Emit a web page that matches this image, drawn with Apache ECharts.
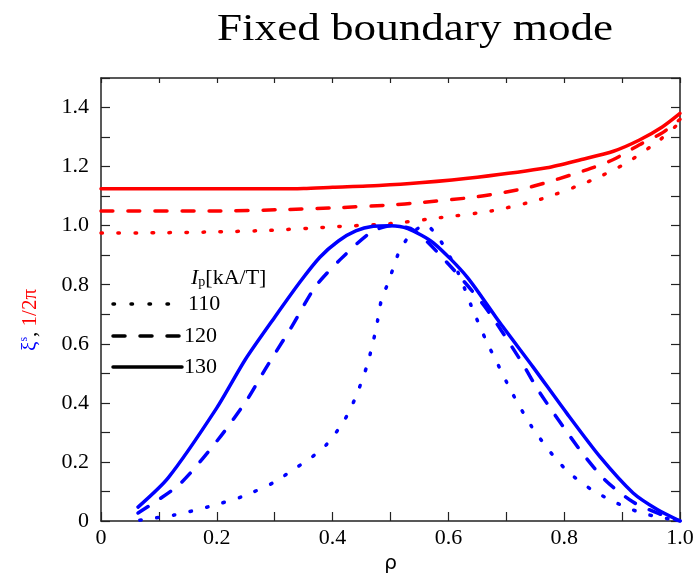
<!DOCTYPE html>
<html>
<head>
<meta charset="utf-8">
<script src="https://cdn.jsdelivr.net/npm/echarts@6/dist/echarts.min.js"></script>
<style>
html,body{margin:0;padding:0;background:#fff;}
#chart{width:697px;height:574px;}
</style>
</head>
<body>
<div id="chart"></div>
<script>
// ---- data ----
var xTicks = [0, 0.2, 0.4, 0.6, 0.8, 1.0];
var yTicks = [0, 0.2, 0.4, 0.6, 0.8, 1.0, 1.2, 1.4];
var legendLabels = ['110', '120', '130'];

// red: 1/2π  (Ip = 130, 120, 110)
var redSolidRho = [0, 0.1, 0.2, 0.3, 0.35, 0.4, 0.48, 0.55, 0.65, 0.77, 0.83, 0.885, 0.93, 0.97, 1.0];
var redSolidVal = [1.125, 1.125, 1.125, 1.125, 1.126, 1.13, 1.136, 1.145, 1.164, 1.196, 1.224, 1.252, 1.29, 1.335, 1.38];
var redDashRho = [0, 0.2, 0.31, 0.4, 0.5, 0.55, 0.65, 0.74, 0.84, 0.885, 0.93, 0.97, 1.0];
var redDashVal = [1.05, 1.05, 1.054, 1.06, 1.07, 1.078, 1.098, 1.13, 1.19, 1.224, 1.274, 1.315, 1.36];
var redDotRho = [0, 0.1, 0.2, 0.29, 0.41, 0.5, 0.585, 0.675, 0.76, 0.85, 0.908, 0.965, 1.0];
var redDotVal = [0.975, 0.976, 0.979, 0.984, 0.997, 1.007, 1.027, 1.05, 1.09, 1.156, 1.213, 1.29, 1.35];

// blue: ξ^s  (Ip = 130, 120, 110)
var blueSolidRho = [0.064, 0.116, 0.2, 0.249, 0.3, 0.344, 0.378, 0.41, 0.44, 0.47, 0.5, 0.53, 0.574, 0.632, 0.689, 0.746, 0.804, 0.862, 0.919, 0.96, 1.0];
var blueSolidVal = [0.047, 0.146, 0.383, 0.546, 0.69, 0.81, 0.893, 0.948, 0.982, 0.998, 1.0, 0.99, 0.942, 0.827, 0.671, 0.522, 0.366, 0.217, 0.095, 0.04, 0];
var blueDashRho = [0.064, 0.136, 0.202, 0.252, 0.283, 0.33, 0.37, 0.413, 0.465, 0.5, 0.54, 0.6, 0.663, 0.724, 0.758, 0.827, 0.87, 0.919, 0.97, 1.0];
var blueDashVal = [0.027, 0.125, 0.275, 0.41, 0.512, 0.66, 0.793, 0.885, 0.976, 1.0, 0.985, 0.87, 0.726, 0.546, 0.434, 0.241, 0.14, 0.064, 0.02, 0];
var blueDotRho = [0.067, 0.126, 0.185, 0.243, 0.3, 0.331, 0.36, 0.39, 0.42, 0.44, 0.46, 0.475, 0.485, 0.494, 0.505, 0.515, 0.534, 0.56, 0.585, 0.617, 0.64, 0.666, 0.68, 0.71, 0.744, 0.787, 0.815, 0.848, 0.876, 0.905, 0.934, 0.962, 1.0];
var blueDotVal = [0.003, 0.02, 0.048, 0.082, 0.132, 0.173, 0.21, 0.26, 0.34, 0.42, 0.53, 0.65, 0.756, 0.797, 0.858, 0.912, 0.969, 1.003, 0.953, 0.84, 0.726, 0.607, 0.552, 0.434, 0.319, 0.207, 0.153, 0.105, 0.075, 0.048, 0.027, 0.014, 0];

function pairs(xs, ys) { return xs.map(function (x, i) { return [x, ys[i]]; }); }

var FONT = '"Liberation Serif", "Times New Roman", serif';
var RED = '#ff0000', BLUE = '#0000ff';
var LW = 3.5;
var DOT = [1.5, 15.5];
var DASH = [12, 15];

function mkSeries(name, xs, ys, color, type) {
  return {
    name: name, type: 'line', data: pairs(xs, ys), showSymbol: false, symbol: 'none',
    smooth: 0.25, silent: true, animation: false,
    lineStyle: { color: color, width: LW, type: type, cap: 'round', join: 'round' }
  };
}

function fmtTick(list) {
  return function (v) {
    for (var i = 0; i < list.length; i++) {
      if (Math.abs(list[i] - v) < 1e-6) return v === 0 ? '0' : v.toFixed(1);
    }
    return '';
  };
}

var chart = echarts.init(document.getElementById('chart'), null, { renderer: 'canvas' });
function line() { return { show: true, onZero: false, lineStyle: { color: '#222', width: 1.5 } }; }
function tick(len) { return { show: true, inside: true, length: len, lineStyle: { color: '#222', width: 1.2 } }; }
var option = {
  animation: false,
  grid: { left: 101, right: 17, top: 78, bottom: 53, containLabel: false, outerBoundsMode: 'none' },
  xAxis: [{
    type: 'value', min: 0, max: 1, interval: 0.1, position: 'bottom',
    axisLine: line(), axisTick: tick(9), splitLine: { show: false },
    axisLabel: { fontFamily: FONT, fontSize: 22, color: '#000', margin: 6, formatter: fmtTick(xTicks), showMinLabel: true, showMaxLabel: true },
    name: 'ρ', nameLocation: 'middle', nameGap: 30,
    nameTextStyle: { fontFamily: '"DejaVu Sans", sans-serif', fontSize: 20, color: '#000' }
  }, {
    type: 'value', min: 0, max: 1, interval: 0.1, position: 'top',
    axisLine: line(), axisTick: tick(5), splitLine: { show: false }, axisLabel: { show: false }
  }],
  yAxis: [{
    type: 'value', min: 0, max: 1.5, interval: 0.1, position: 'left',
    axisLine: line(), axisTick: tick(9), splitLine: { show: false },
    axisLabel: { fontFamily: FONT, fontSize: 22, color: '#000', margin: 12, formatter: fmtTick(yTicks) }
  }, {
    type: 'value', min: 0, max: 1.5, interval: 0.1, position: 'right',
    axisLine: line(), axisTick: tick(9), splitLine: { show: false }, axisLabel: { show: false }
  }],
  series: [
    mkSeries('r130', redSolidRho, redSolidVal, RED, 'solid'),
    mkSeries('r120', redDashRho, redDashVal, RED, DASH),
    mkSeries('r110', redDotRho, redDotVal, RED, DOT),
    mkSeries('b130', blueSolidRho, blueSolidVal, BLUE, 'solid'),
    mkSeries('b120', blueDashRho, blueDashVal, BLUE, DASH),
    mkSeries('b110', blueDotRho, blueDotVal, BLUE, DOT)
  ],
  graphic: [
    { type: 'text', x: 415, y: 30, scaleX: 1.22, style: { text: 'Fixed boundary mode', font: '37px ' + FONT, fill: '#000', align: 'center', verticalAlign: 'middle' } },
    { type: 'text', x: 30, y: 320, rotation: Math.PI / 2, style: {
        text: '{b|ξ}{bs|s}{k|, }{r|1/2π}', align: 'center', verticalAlign: 'middle',
        rich: {
          b: { fontFamily: FONT, fontSize: 21, fill: BLUE, color: BLUE },
          bs: { fontFamily: FONT, fontSize: 12, fill: BLUE, color: BLUE, padding: [0, 0, 12, 0] },
          k: { fontFamily: FONT, fontSize: 21, fill: '#000', color: '#000' },
          r: { fontFamily: FONT, fontSize: 21, fill: RED, color: RED }
        } } },
    { type: 'text', x: 191, y: 278, style: {
        text: '{i|I}{p|p}{t|[kA/T]}', verticalAlign: 'middle',
        rich: {
          i: { fontFamily: FONT, fontSize: 22, fontStyle: 'italic', fill: '#000', color: '#000' },
          p: { fontFamily: FONT, fontSize: 14, fill: '#000', color: '#000', padding: [8, 0, 0, 0] },
          t: { fontFamily: FONT, fontSize: 22, fill: '#000', color: '#000' }
        } } },
    { type: 'line', shape: { x1: 113, y1: 304, x2: 170, y2: 304 }, style: { stroke: '#000', lineWidth: LW, lineDash: [1.5, 16.5], lineCap: 'round' } },
    { type: 'line', shape: { x1: 113, y1: 336, x2: 182, y2: 336 }, style: { stroke: '#000', lineWidth: LW, lineDash: [12, 15], lineCap: 'round' } },
    { type: 'line', shape: { x1: 113, y1: 367, x2: 182, y2: 367 }, style: { stroke: '#000', lineWidth: LW, lineCap: 'round' } },
    { type: 'text', x: 188, y: 304, style: { text: legendLabels[0], font: '22px ' + FONT, fill: '#000', verticalAlign: 'middle' } },
    { type: 'text', x: 184, y: 336, style: { text: legendLabels[1], font: '22px ' + FONT, fill: '#000', verticalAlign: 'middle' } },
    { type: 'text', x: 184, y: 367, style: { text: legendLabels[2], font: '22px ' + FONT, fill: '#000', verticalAlign: 'middle' } }
  ]
};
chart.setOption(option);
</script>
</body>
</html>
